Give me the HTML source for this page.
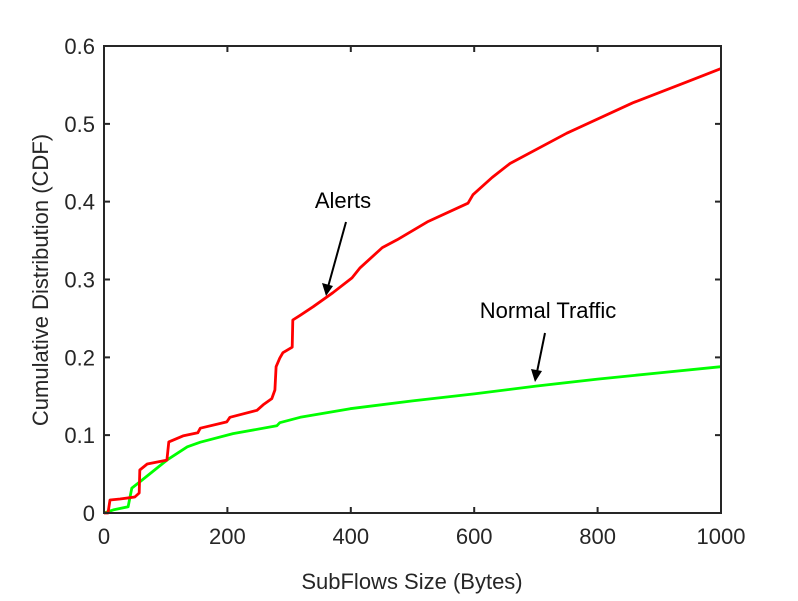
<!DOCTYPE html>
<html><head><meta charset="utf-8"><style>
body{margin:0;background:#fff}
svg{display:block;font-family:"Liberation Sans",Arial,sans-serif}
</style></head><body>
<svg id="chart" width="798" height="601" viewBox="0 0 798 601">
<rect x="0" y="0" width="798" height="601" fill="#fff"/>
<g id="axes"></g>
<g id="series"></g>
<rect x="104" y="46" width="617" height="467" fill="none" stroke="#262626" stroke-width="2"/>
<text x="412" y="589" font-size="22" text-anchor="middle" fill="#262626">SubFlows Size (Bytes)</text>
<text transform="translate(48,280) rotate(-90)" font-size="22" text-anchor="middle" fill="#262626">Cumulative Distribution (CDF)</text>
<text x="343" y="208" font-size="22" text-anchor="middle" fill="#000">Alerts</text>
<line x1="346" y1="222" x2="328" y2="287" stroke="#000" stroke-width="2"/>
<polygon points="326,296 322,283 333,286" fill="#000"/>
<text x="548" y="318" font-size="22" text-anchor="middle" fill="#000">Normal Traffic</text>
<line x1="545" y1="333" x2="537" y2="372" stroke="#000" stroke-width="2"/>
<polygon points="535,382 531,369 542,371" fill="#000"/>
</svg>
<script>
const xTicks=[0,200,400,600,800,1000];
const yTicks=[0,0.1,0.2,0.3,0.4,0.5,0.6];
const yTickLabels=["0","0.1","0.2","0.3","0.4","0.5","0.6"];
const alertsX=[0,6.5,9.7,26,50,57,58,70,102,105,128,152,156,199,204,248,258,272,277,279,285,290,305,306,318,339,371,402,415,451,475,524,590,598,629,658,750,857,945,1000];
const alertsY=[0,0,.0167,.018,.0206,.0257,.0553,.063,.068,.0913,.099,.103,.109,.117,.123,.132,.139,.147,.158,.188,.199,.206,.213,.248,.254,.265,.283,.302,.315,.341,.351,.374,.398,.409,.431,.449,.488,.527,.554,.571];
const normalX=[0,15,39,45,58,102,135,156,209,280,285,318,399,500,600,700,800,900,1000];
const normalY=[0,.004,.008,.032,.040,.068,.085,.091,.102,.112,.116,.123,.134,.144,.153,.163,.172,.180,.188];
const X0=104,X1=721,Y0=513,Y1=46;
function sx(v){return X0+(v/1000)*(X1-X0);}
function sy(v){return Y0-(v/0.6)*(Y0-Y1);}
const NS="http://www.w3.org/2000/svg";
const axes=document.getElementById('axes');
xTicks.forEach(t=>{
  const x=sx(t);
  const l=document.createElementNS(NS,'path');
  l.setAttribute('d',`M${x},${Y0}V${Y0-6}M${x},${Y1}V${Y1+6}`);
  l.setAttribute('stroke','#262626');l.setAttribute('stroke-width','2');
  
  
  axes.appendChild(l);
  const tx=document.createElementNS(NS,'text');
  tx.setAttribute('x',x);tx.setAttribute('y',Y0+31);tx.setAttribute('font-size','22');
  tx.setAttribute('text-anchor','middle');tx.setAttribute('fill','#262626');
  tx.textContent=t;
  
  
  axes.appendChild(tx);
});
yTicks.forEach((t,i)=>{
  const y=sy(t);
  const l=document.createElementNS(NS,'path');
  l.setAttribute('d',`M${X0},${y}H${X0+6}M${X1},${y}H${X1-6}`);
  l.setAttribute('stroke','#262626');l.setAttribute('stroke-width','2');
  
  
  axes.appendChild(l);
  const tx=document.createElementNS(NS,'text');
  tx.setAttribute('x',X0-9);tx.setAttribute('y',y+8);tx.setAttribute('font-size','22');
  tx.setAttribute('text-anchor','end');tx.setAttribute('fill','#262626');
  tx.textContent=yTickLabels[i];
  
  
  axes.appendChild(tx);
});
const series=document.getElementById('series');
function line(xs,ys,color,name){
  const p=document.createElementNS(NS,'polyline');
  p.setAttribute('points',xs.map((v,i)=>sx(v).toFixed(1)+','+sy(ys[i]).toFixed(1)).join(' '));
  p.setAttribute('fill','none');p.setAttribute('stroke',color);p.setAttribute('stroke-width','2.8');
  p.setAttribute('stroke-linejoin','round');
  
  
  series.appendChild(p);
}
line(normalX,normalY,'#00ff00','normal-traffic-line');
line(alertsX,alertsY,'#ff0000','alerts-line');
</script>
</body></html>
